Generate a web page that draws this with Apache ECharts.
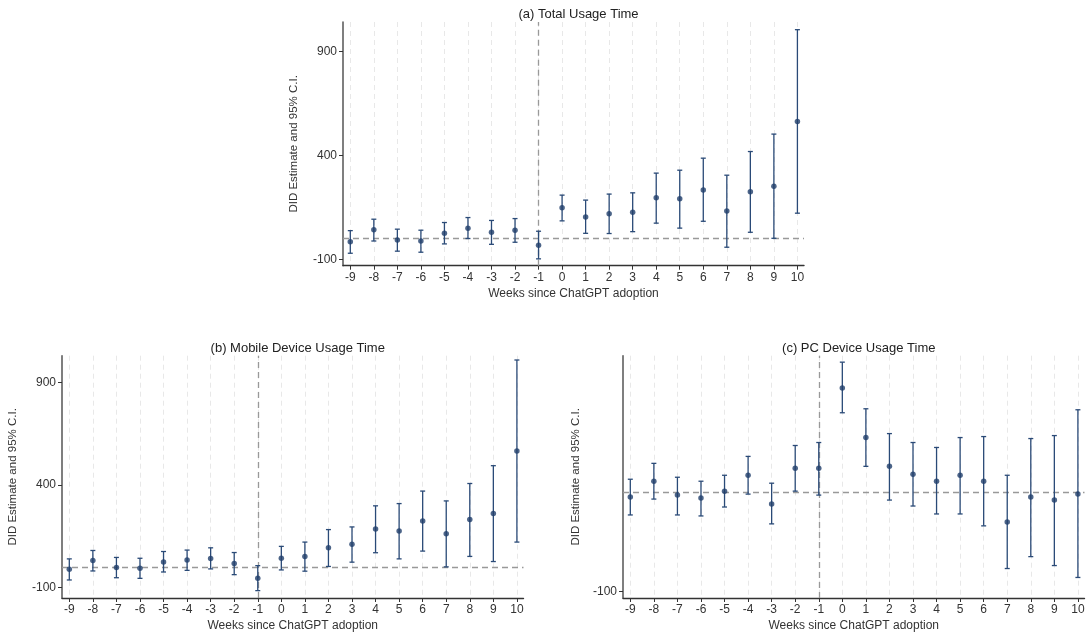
<!DOCTYPE html>
<html>
<head>
<meta charset="utf-8">
<script src="https://cdn.jsdelivr.net/npm/echarts@6/dist/echarts.min.js"></script>
<style>
html,body{margin:0;padding:0;background:#fff;}
#chart{width:1089px;height:633px;}
</style>
</head>
<body>
<div id="chart"></div>
<script>
// ---- Data ----
const weeks = [-9,-8,-7,-6,-5,-4,-3,-2,-1,0,1,2,3,4,5,6,7,8,9,10];
const yTicksAB = [-100, 400, 900];
const yTicksC = [-100];
const titles = ['(a) Total Usage Time', '(b) Mobile Device Usage Time', '(c) PC Device Usage Time'];
const xName = 'Weeks since ChatGPT adoption';
const yName = 'DID Estimate and 95% C.I.';

// (a) Total usage time
const totalEst = [-16, 42, -7, -12, 25, 50, 30, 40, -33, 148, 104, 119, 127, 196, 191, 234, 132, 225, 252, 564];
const totalLo  = [-71, -12, -61, -66, -26, 0, -28, -18, -98, 85, 25, 24, 33, 74, 50, 83, -42, 30, 1, 122];
const totalHi  = [38, 93, 45, 40, 77, 101, 87, 96, 35, 209, 185, 214, 220, 315, 329, 387, 305, 419, 503, 1006];

// (b) Mobile device usage time
const mobileEst = [-12, 31, -3, -7, 24, 34, 41, 16, -56, 42, 51, 93, 110, 185, 175, 224, 162, 231, 260, 566];
const mobileLo  = [-64, -20, -53, -56, -25, -17, -10, -38, -116, -15, -21, 2, 23, 69, 39, 77, 0, 51, 26, 121];
const mobileHi  = [39, 80, 46, 42, 75, 82, 93, 70, 6, 100, 121, 182, 195, 298, 309, 370, 322, 407, 494, 1010];

// (c) PC device usage time
const pcEst = [-5, 11, -3, -6, 1, 17, -12, 24, 24, 105, 55, 26, 18, 11, 17, 11, -30, -5, -8, -2];
const pcLo  = [-23, -7, -23, -24, -15, -2, -32, 1, -3, 80, 26, -8, -14, -22, -22, -34, -77, -65, -74, -86];
const pcHi  = [13, 29, 15, 11, 17, 36, 9, 47, 50, 131, 84, 59, 50, 45, 55, 56, 17, 54, 57, 83];

// ---- Build ----
const FONT = '"Liberation Sans", Arial, sans-serif';
const navy = '#1f3d6a';
const barColor = '#2a4a77';

const panels = [
  {est: totalEst, lo: totalLo, hi: totalHi, grid: {left: 343, top: 22, width: 461, height: 243.7}, ymin: -131, ymax: 1043, yt: yTicksAB},
  {est: mobileEst, lo: mobileLo, hi: mobileHi, grid: {left: 62, top: 355.7, width: 461.5, height: 243.3}, ymin: -152, ymax: 1031, yt: yTicksAB},
  {est: pcEst, lo: pcLo, hi: pcHi, grid: {left: 623, top: 355.7, width: 461.5, height: 243.3}, ymin: -106.7, ymax: 137.5, yt: yTicksC}
];

const grid = [], xAxis = [], yAxis = [], series = [], title = [];
panels.forEach((p, i) => {
  grid.push(p.grid);
  title.push({
    text: titles[i],
    left: p.grid.left + p.grid.width / 2,
    top: p.grid.top - 19,
    textAlign: 'center',
    textStyle: {fontFamily: FONT, fontSize: 13, fontWeight: 'normal', color: '#222'}
  });
  xAxis.push({
    type: 'value', gridIndex: i, min: -9.31, max: 10.28,
    name: xName, nameLocation: 'middle', nameGap: 22,
    nameTextStyle: {fontFamily: FONT, fontSize: 12, color: '#333'},
    axisLine: {show: true, onZero: false, lineStyle: {color: '#333', width: 1.4}},
    axisTick: {show: true, length: 4, customValues: weeks, lineStyle: {color: '#333', width: 1}},
    axisLabel: {customValues: weeks, fontFamily: FONT, fontSize: 12, color: '#333', margin: 6},
    splitLine: {show: true, lineStyle: {color: '#e8e8e8', type: [5, 4], width: 1}}
  });
  yAxis.push({
    type: 'value', gridIndex: i, min: p.ymin, max: p.ymax,
    name: yName, nameLocation: 'middle', nameGap: i === 2 ? 41 : 43,
    nameTextStyle: {fontFamily: FONT, fontSize: 11.5, color: '#333'},
    axisLine: {show: true, onZero: false, lineStyle: {color: '#555', width: 1.5}},
    axisTick: {show: true, length: 4, customValues: p.yt, lineStyle: {color: '#333'}},
    axisLabel: {customValues: p.yt, fontFamily: FONT, fontSize: 12, color: '#333', margin: 6},
    splitLine: {show: false}
  });
  const barData = weeks.map((w, k) => [w, p.lo[k], p.hi[k]]);
  series.push({
    type: 'custom', xAxisIndex: i, yAxisIndex: i, silent: true,
    data: barData,
    renderItem: function (params, api) {
      const x = api.value(0);
      const lo = api.coord([x, api.value(1)]);
      const hi = api.coord([x, api.value(2)]);
      const hw = 2.5;
      const st = {stroke: barColor, lineWidth: 1.3};
      return {
        type: 'group',
        children: [
          {type: 'line', shape: {x1: lo[0], y1: lo[1], x2: hi[0], y2: hi[1]}, style: st},
          {type: 'line', shape: {x1: lo[0] - hw, y1: lo[1], x2: lo[0] + hw, y2: lo[1]}, style: st},
          {type: 'line', shape: {x1: hi[0] - hw, y1: hi[1], x2: hi[0] + hw, y2: hi[1]}, style: st}
        ]
      };
    },
    z: 3
  });
  series.push({
    type: 'scatter', xAxisIndex: i, yAxisIndex: i, silent: true,
    data: weeks.map((w, k) => [w, p.est[k]]),
    symbol: 'circle', symbolSize: 5.5,
    itemStyle: {color: navy},
    z: 4,
    markLine: {
      silent: true, symbol: 'none', label: {show: false},
      lineStyle: {color: '#999', type: [6, 4], width: 1.3},
      data: [{yAxis: 0}, {xAxis: -1}],
      z: 2
    }
  });
});

const chart = echarts.init(document.getElementById('chart'), null, {renderer: 'canvas'});
chart.setOption({
  animation: false,
  backgroundColor: '#fff',
  title: title,
  grid: grid,
  xAxis: xAxis,
  yAxis: yAxis,
  series: series
});
</script>
</body>
</html>
